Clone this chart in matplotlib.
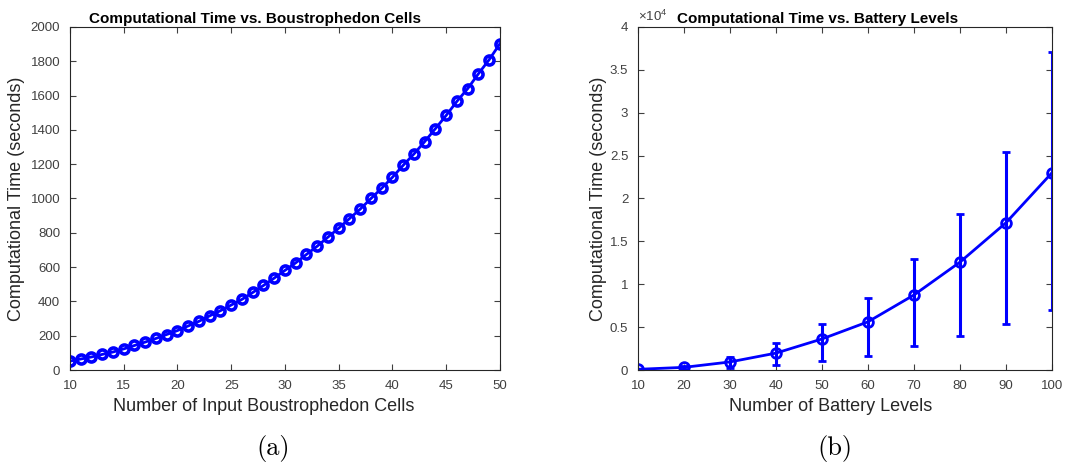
import numpy as np
import matplotlib
matplotlib.use("Agg")
import matplotlib.pyplot as plt
from matplotlib.ticker import FuncFormatter

# === Data ===
cells = list(range(10, 51))
cell_time = [52, 64, 76, 91, 105, 123, 143, 163, 184, 207,
             230, 257, 284, 316, 346, 379, 412, 452, 493, 536,
             581, 625, 674, 722, 775, 827, 883, 938, 1000, 1060,
             1124, 1194, 1260, 1332, 1408, 1485, 1567, 1641, 1728, 1810,
             1903]

battery = [10, 20, 30, 40, 50, 60, 70, 80, 90, 100]
battery_time = [80, 310, 940, 1970, 3620, 5620, 8750, 12580, 17170, 23000]
err_low = [60, 150, 660, 1340, 2600, 3990, 5940, 8600, 11800, 16000]
err_high = [60, 150, 630, 1180, 1770, 2780, 4180, 5630, 8230, 14050]

plt.rcParams['font.family'] = ['Liberation Sans', 'DejaVu Sans']
plt.rcParams['mathtext.fontset'] = 'custom'
plt.rcParams['mathtext.rm'] = 'Liberation Sans'
plt.rcParams['mathtext.it'] = 'Liberation Sans'
blue = (0, 0, 1)
gray = '#262626'
tick_gray = '#404040'

fig = plt.figure(figsize=(10.9, 4.67), dpi=100)
ax1 = fig.add_axes([0.0642, 0.2077, 0.3945, 0.7345])
ax2 = fig.add_axes([0.5853, 0.2077, 0.3798, 0.7345])

# === Plot (a) ===
ax1.plot(cells, cell_time, color=blue, linewidth=2, marker='o', markersize=6.5,
         markerfacecolor='none', markeredgewidth=2.6)
ax1.set_xlim(10, 50)
ax1.set_ylim(0, 2000)
ax1.set_xticks(range(10, 51, 5))
ax1.set_yticks(range(0, 2001, 200))
ax1.set_title("Computational Time vs. Boustrophedon Cells", fontsize=11,
              fontweight='bold', x=0.43, pad=3)
ax1.set_xlabel("Number of Input Boustrophedon Cells", fontsize=13, color=gray)
ax1.set_ylabel("Computational Time (seconds)", fontsize=13, color=gray)
ax1.xaxis.set_label_coords(0.45, -0.082)
ax1.yaxis.set_label_coords(-0.105, 0.5)

# === Plot (b) ===
ax2.errorbar(battery, battery_time, yerr=[err_low, err_high], color=blue,
             linewidth=2, marker='o', markersize=7, markerfacecolor='none',
             markeredgewidth=2, elinewidth=2.2, capsize=3, capthick=2.2)
ax2.set_xlim(10, 100)
ax2.set_ylim(0, 40000)
ax2.set_xticks(battery)
ax2.set_yticks(np.arange(0, 40001, 5000))
ax2.yaxis.set_major_formatter(FuncFormatter(lambda v, p: f"{v / 1e4:g}"))
ax2.text(0.0, 1.008, r"$\times10^4$", transform=ax2.transAxes, fontsize=9.5,
         color=tick_gray, ha='left', va='bottom')
ax2.set_title("Computational Time vs. Battery Levels", fontsize=11,
              fontweight='bold', x=0.435, pad=3)
ax2.set_xlabel("Number of Battery Levels", fontsize=13, color=gray)
ax2.set_ylabel("Computational Time (seconds)", fontsize=13, color=gray)
ax2.xaxis.set_label_coords(0.466, -0.082)
ax2.yaxis.set_label_coords(-0.075, 0.5)

for ax in (ax1, ax2):
    ax.tick_params(direction='in', top=True, right=True, length=4, width=0.8,
                   labelsize=9.5, colors=tick_gray, labelcolor=tick_gray, pad=7)
    for sp in ax.spines.values():
        sp.set_color(gray)
        sp.set_linewidth(0.8)

# === Sub captions ===
fig.text(0.251, 0.04, "(a)", fontsize=19, family='cmr10', ha='center', va='center')
fig.text(0.766, 0.04, "(b)", fontsize=19, family='cmr10', ha='center', va='center')

plt.savefig("out.png", dpi=100)
plt.close()
